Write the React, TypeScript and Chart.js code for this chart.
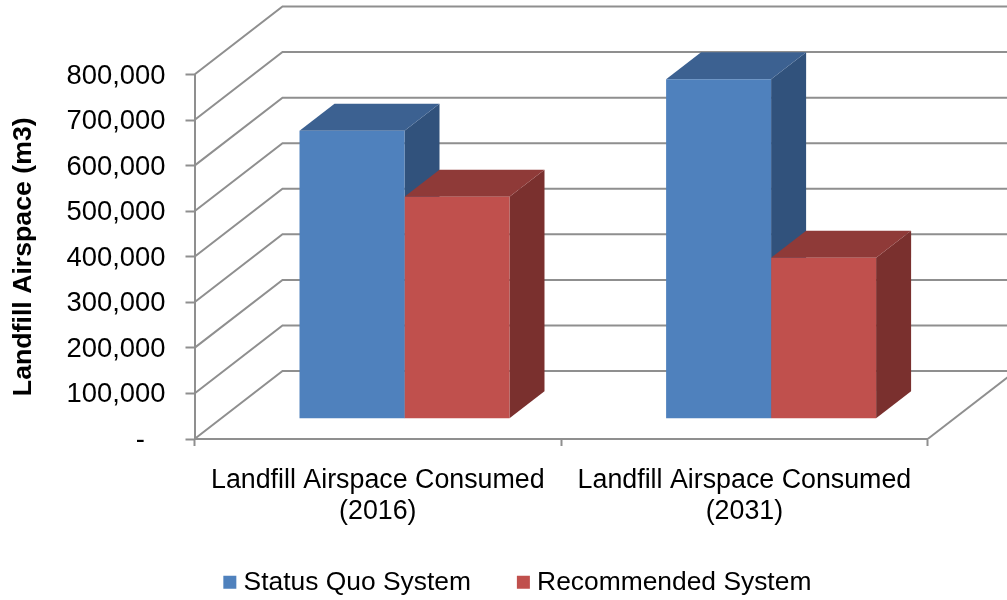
import React, { useEffect, useRef } from "react";
import { Chart, registerables } from "chart.js";

Chart.register(...registerables);

const categories = [
  ["Landfill Airspace Consumed", "(2016)"],
  ["Landfill Airspace Consumed", "(2031)"],
];
const statusQuoValues = [632000, 745000];
const recommendedValues = [487000, 353000];
const yTickLabels = [
  "-\u00A0\u00A0\u2009",
  "100,000",
  "200,000",
  "300,000",
  "400,000",
  "500,000",
  "600,000",
  "700,000",
  "800,000",
];

const FONT = "'Liberation Sans', Arial, sans-serif";
const AXIS = "#8f8f8f";
const FLOOR_DX = 88;
const FLOOR_DY = -68;
const BAR_SHIFT_X = 26.7;
const BAR_SHIFT_Y = -20.3;
const DEPTH_X = 35;
const DEPTH_Y = -27;
const faceColors = [
  { top: "#3c6191", side: "#31527c" },
  { top: "#8f3a38", side: "#7a302e" },
];

const wall3d = {
  id: "wall3d",
  afterLayout(chart: any) {
    const legend = chart.legend;
    const itemH = 26.4 * 1.2;
    const pad = legend.options.labels.padding;
    const h = legend.bottom - legend.top;
    const top = 585 - pad - itemH / 2;
    legend.top = top;
    legend.bottom = top + h;
    legend.left += 56.5;
    legend.right += 56.5;
    chart.scales.x.bottom = 545;
  },
  beforeDatasetsDraw(chart: any) {
    const { ctx, chartArea, scales } = chart;
    const y = scales.y;
    const xBack = chartArea.left + FLOOR_DX;
    ctx.save();
    ctx.strokeStyle = AXIS;
    ctx.lineWidth = 2;
    ctx.lineJoin = "miter";
    y.ticks.forEach((t: any) => {
      const py = y.getPixelForValue(t.value);
      ctx.beginPath();
      ctx.moveTo(chartArea.left, py);
      ctx.lineTo(xBack, py + FLOOR_DY);
      ctx.lineTo(1010, py + FLOOR_DY);
      ctx.stroke();
    });
    const bottom = y.getPixelForValue(0);
    ctx.beginPath();
    ctx.moveTo(chartArea.right, bottom);
    ctx.lineTo(chartArea.right + FLOOR_DX, bottom + FLOOR_DY);
    ctx.stroke();
    ctx.translate(BAR_SHIFT_X, BAR_SHIFT_Y);
    chart.data.datasets.forEach((_: any, di: number) => {
      const meta = chart.getDatasetMeta(di);
      meta.data.forEach((bar: any) => {
        const l = bar.x - bar.width / 2;
        const r = bar.x + bar.width / 2;
        ctx.fillStyle = faceColors[di].side;
        ctx.beginPath();
        ctx.moveTo(r, bar.y);
        ctx.lineTo(r + DEPTH_X, bar.y + DEPTH_Y);
        ctx.lineTo(r + DEPTH_X, bar.base + DEPTH_Y);
        ctx.lineTo(r, bar.base);
        ctx.closePath();
        ctx.fill();
        ctx.fillStyle = faceColors[di].top;
        ctx.beginPath();
        ctx.moveTo(l, bar.y);
        ctx.lineTo(l + DEPTH_X, bar.y + DEPTH_Y);
        ctx.lineTo(r + DEPTH_X, bar.y + DEPTH_Y);
        ctx.lineTo(r, bar.y);
        ctx.closePath();
        ctx.fill();
      });
    });
  },
  afterDatasetsDraw(chart: any) {
    chart.ctx.restore();
  },
};

export default function App() {
  const ref = useRef<HTMLCanvasElement | null>(null);
  useEffect(() => {
    const chart = new Chart(ref.current as HTMLCanvasElement, {
      type: "bar",
      data: {
        labels: categories,
        datasets: [
          {
            label: "Status Quo System",
            data: statusQuoValues,
            backgroundColor: "#4f81bd",
            categoryPercentage: 0.5728,
            barPercentage: 1,
            clip: false,
          },
          {
            label: "Recommended System",
            data: recommendedValues,
            backgroundColor: "#c0504d",
            categoryPercentage: 0.5728,
            barPercentage: 1,
            clip: false,
          },
        ],
      },
      options: {
        responsive: false,
        animation: false,
        devicePixelRatio: 1,
        layout: { padding: { top: 74.5, right: 79.3, left: 0, bottom: 0 } },
        plugins: {
          tooltip: { enabled: false },
          legend: {
            position: "bottom",
            labels: {
              usePointStyle: true,
              pointStyle: "rect",
              boxWidth: 1,
              boxHeight: 13,
              padding: 52,
              color: "#000",
              font: { family: FONT, size: 26.4 },
            },
          },
        },
        scales: {
          x: {
            border: { color: AXIS, width: 2 },
            grid: { drawOnChartArea: false, drawTicks: true, tickLength: 7, tickColor: AXIS, tickWidth: 2 },
            ticks: {
              color: "#000",
              maxRotation: 0,
              autoSkip: false,
              padding: 19,
              font: { family: FONT, size: 26.8, lineHeight: 1.15 },
            },
            afterFit(scale: any) {
              const legend = scale.chart.legend;
              scale.height = 600 - 439 - (legend ? legend.height : 0);
            },
          },
          y: {
            min: 0,
            max: 800000,
            border: { color: AXIS, width: 2 },
            grid: { drawOnChartArea: false, drawTicks: true, tickLength: 9, tickColor: AXIS, tickWidth: 2 },
            ticks: {
              stepSize: 100000,
              color: "#000",
              padding: 20,
              labelOffset: 1.5,
              font: { family: FONT, size: 27.4 },
              callback: (_v: any, i: number) => yTickLabels[i],
            },
            title: {
              display: true,
              text: "Landfill Airspace (m3)",
              color: "#000",
              padding: { top: 8, bottom: 0 },
              font: { family: FONT, size: 26.7, weight: "bold" },
            },
            afterFit(scale: any) {
              scale.width = 194.5;
            },
          },
        },
      },
      plugins: [wall3d],
    } as any);
    return () => chart.destroy();
  }, []);
  return (
    <div style={{ position: "fixed", left: 0, top: 0, width: 1007, height: 600, background: "#fff" }}>
      <canvas ref={ref} width={1007} height={600} style={{ display: "block" }} />
    </div>
  );
}
